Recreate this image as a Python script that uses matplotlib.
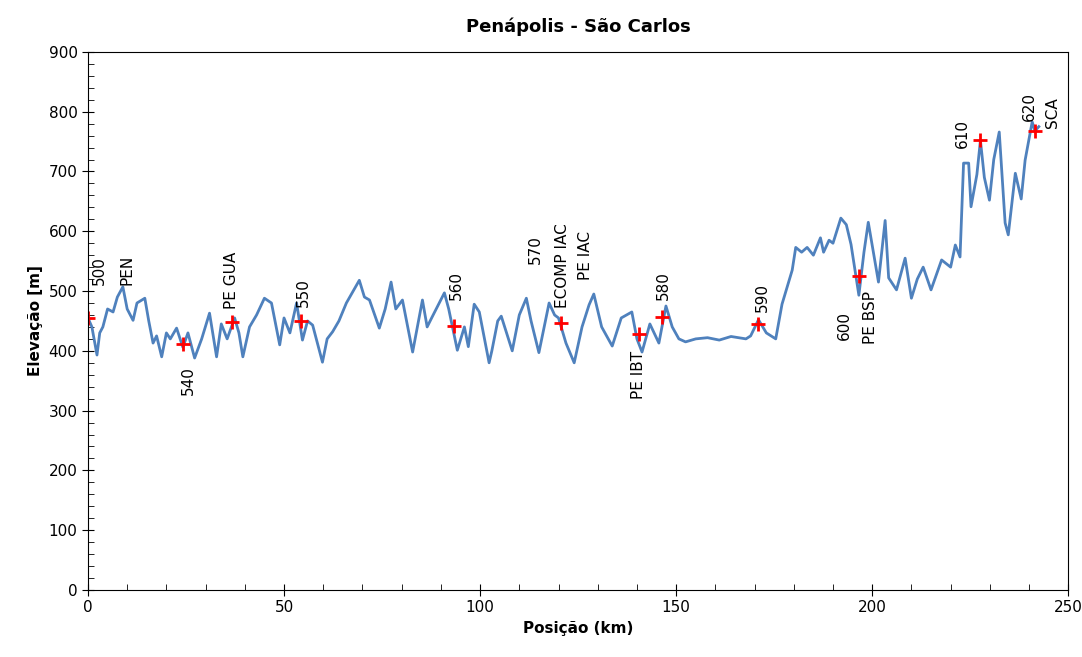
import matplotlib
matplotlib.use("Agg")
import matplotlib.pyplot as plt
from matplotlib.ticker import MultipleLocator

# elevation profile (km, m)
km = [0, 1, 2.3, 3, 3.8, 5, 6.4, 7.5, 8.9, 10, 11.5, 12.5, 14.5, 15.5, 16.6, 17.5, 18.8,
      20, 21, 22.6, 24.2, 25.5, 27.2, 29, 31, 32.8, 34, 35.5, 37.4, 38.5, 39.5, 41.2,
      43, 45, 46.8, 48.9, 50, 51.5, 53.2, 54.7, 56, 57.3, 59.8, 61, 62.4, 64, 65.9,
      69.2, 70.5, 71.8, 74.3, 75.8, 77.3, 78.5, 80.2, 82.8, 85.3, 86.5, 87.8, 90.9,
      92, 94.2, 96, 97, 98.5, 99.8, 102.3, 103, 104.5, 105.4, 108.2, 110, 111.8,
      113, 115, 117.6, 119, 120, 121.9, 124, 126, 127.8, 129, 131, 133.7, 136,
      138.7, 140, 141.3, 143.3, 145.6, 147.4, 149, 150.7, 152.4, 155, 158, 161,
      164, 167.8, 169, 171, 173, 175.4, 177, 178, 179.6, 180.5, 182, 183.4, 185,
      186.8, 187.6, 189, 190, 192, 193.4, 194.6, 196.6, 197.9, 199, 201.6, 203.3,
      204.2, 206.2, 208.4, 210, 211.5, 213, 215, 217.7, 220, 221.2, 222.4, 223.3,
      224.6, 225.2, 226.7, 227.6, 228.6, 229.9, 231, 232.4, 233.9, 234.7, 236.5,
      238, 239, 240.8, 241.5, 242.5]
elev = [455, 440, 393, 430, 440, 470, 465, 490, 507, 470, 451, 480, 488, 450, 413, 425, 390,
        430, 420, 438, 406, 430, 388, 420, 463, 390, 445, 420, 455, 430, 390, 440,
        460, 488, 480, 410, 455, 430, 480, 418, 450, 443, 381, 420, 432, 450, 480,
        518, 490, 485, 438, 470, 515, 470, 485, 398, 485, 440, 457, 497,
        470, 401, 440, 407, 478, 465, 380, 400, 450, 458, 400, 460, 488,
        450, 397, 480, 460, 455, 413, 380, 440, 477, 495, 440, 408, 455,
        465, 420, 398, 445, 413, 475, 440, 420, 415, 420, 422, 418,
        424, 420, 425, 452, 430, 420, 478, 500, 535, 573, 565, 573, 560,
        589, 565, 585, 580, 622, 611, 578, 493, 565, 615, 515, 618,
        522, 502, 555, 488, 520, 540, 502, 552, 540, 577, 557, 714,
        714, 641, 695, 752, 690, 652, 720, 766, 614, 594, 697,
        654, 719, 783, 768, 775]

# station markers
mark_km = [0, 24.2, 36.7, 54.3, 93.4, 120.7, 140.5, 146.4, 171, 196.6, 227.6, 241.6]
mark_elev = [455, 412, 448, 450, 441, 446, 428, 457, 445, 525, 752, 768]

# rotated station labels
lab_text = ["500", "PEN", "540", "PE GUA", "550", "560", "570", "ECOMP IAC", "PE IAC",
            "PE IBT", "580", "590", "600", "PE BSP", "610", "620", "SCA"]
lab_km = [3, 10, 25.5, 36.5, 55, 94, 114, 121, 127, 140.5, 146.8, 172, 193, 199.5, 223, 240, 246]
lab_elev = [535, 535, 351, 518, 498, 510, 569, 543, 560, 360, 510, 490, 443, 455, 764, 808, 799]

fig = plt.figure(figsize=(10.82, 6.57), dpi=100)
ax = fig.add_axes([0.0813, 0.102, 0.906, 0.819])
ax.plot(km, elev, color="#4F81BD", lw=2)
ax.plot(mark_km, mark_elev, "+", color="red", ms=10, mew=2)
for t, x, y in zip(lab_text, lab_km, lab_elev):
    ax.text(x, y, t, rotation=90, ha="center", va="center", fontsize=11)

ax.set_xlim(0, 250)
ax.set_ylim(0, 900)
ax.xaxis.set_major_locator(MultipleLocator(50))
ax.xaxis.set_minor_locator(MultipleLocator(10))
ax.yaxis.set_major_locator(MultipleLocator(100))
ax.yaxis.set_minor_locator(MultipleLocator(20))
ax.tick_params(which="major", direction="inout", length=8, labelsize=11)
ax.tick_params(which="minor", direction="in", length=4)
ax.set_xlabel("Posição (km)", fontweight="bold", fontsize=11)
ax.set_ylabel("Elevação [m]", fontweight="bold", fontsize=11)
ax.set_title("Penápolis - São Carlos", fontweight="bold", fontsize=13, pad=14)
fig.savefig("out.png")
